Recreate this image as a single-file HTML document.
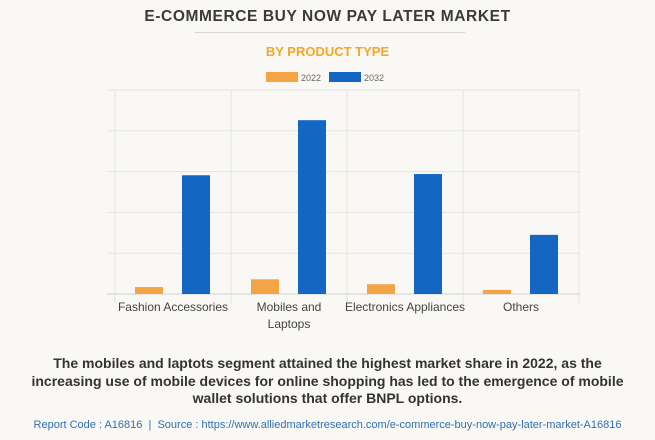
<!DOCTYPE html>
<html><head><meta charset="utf-8"><style>
html,body{margin:0;padding:0;}
body{width:655px;height:440px;background:#f9f8f4;font-family:"Liberation Sans",Arial,sans-serif;position:relative;overflow:hidden;}
.t{position:absolute;left:0;width:655px;text-align:center;}
</style></head><body>
<div class="t" style="top:8px;font-size:15.5px;font-weight:bold;color:#3a3a3a;letter-spacing:0.6px;">E-COMMERCE BUY NOW PAY LATER MARKET</div>
<div style="position:absolute;left:195px;top:32px;width:270px;height:1px;background:#d6d6d6;"></div>
<div class="t" style="top:44px;font-size:13px;font-weight:bold;color:#f5a623;">BY PRODUCT TYPE</div>
<svg id="chart" width="655" height="340" style="position:absolute;left:0;top:0;"></svg>
<div class="t" style="top:355px;font-size:14px;font-weight:bold;color:#333;line-height:17.5px;">The mobiles and laptots segment attained the highest market share in 2022, as the<br>increasing use of mobile devices for online shopping has led to the emergence of mobile<br>wallet solutions that offer BNPL options.</div>
<div class="t" style="top:419px;font-size:11px;color:#2f6fb5;">Report Code : A16816 &nbsp;|&nbsp; Source : https://www.alliedmarketresearch.com/e-commerce-buy-now-pay-later-market-A16816</div>
<script>
const categories=["Fashion Accessories","Mobiles and|Laptops","Electronics Appliances","Others"];
const series2022=[0.17,0.36,0.24,0.10];
const series2032=[2.91,4.26,2.94,1.45];
const yTicks=[0,1,2,3,4,5];
const svg=document.getElementById('chart');
const NS='http://www.w3.org/2000/svg';
const x0=115,catW=116,yBase=294,unit=40.8,plotL=107,plotR=580;
const y=v=>yBase-v*unit;
const xc=i=>x0+i*catW;
function mk(t,a){const e=document.createElementNS(NS,t);for(const k in a)e.setAttribute(k,a[k]);svg.appendChild(e);return e;}
yTicks.forEach(v=>{
 const l=mk('line',{x1:plotL,x2:plotR,y1:y(v),y2:y(v),stroke:v===0?'#d0d0d0':'#e4e4e2','stroke-width':1});
 
 
});
for(let i=0;i<=categories.length;i++){
 const l=mk('line',{x1:xc(i),x2:xc(i),y1:y(5),y2:yBase+10,stroke:'#e4e4e2','stroke-width':1});
 
 
}
categories.forEach((c,i)=>{
 const b1=mk('rect',{x:xc(i)+20,y:y(series2022[i]),width:28,height:series2022[i]*unit,fill:'#f4a444'});
 
 
 const b2=mk('rect',{x:xc(i)+67,y:y(series2032[i]),width:28,height:series2032[i]*unit,fill:'#1366c2'});
 
 
 c.split('|').forEach((s,j)=>{
  const t=mk('text',{x:xc(i)+catW/2,y:311+j*17,'text-anchor':'middle','font-size':12,fill:'#444','font-family':'Liberation Sans, sans-serif'});
  t.textContent=s;
  
  
 });
});
const lg=[['2022','#f4a444',266],['2032','#1366c2',329]];
lg.forEach(([n,c,x])=>{
 const r=mk('rect',{x:x,y:72,width:32,height:10,fill:c});
 
 
 const t=mk('text',{x:x+35,y:81,'font-size':9,fill:'#666','font-family':'Liberation Sans, sans-serif'});
 t.textContent=n;
 
 
});
</script>
</body></html>
